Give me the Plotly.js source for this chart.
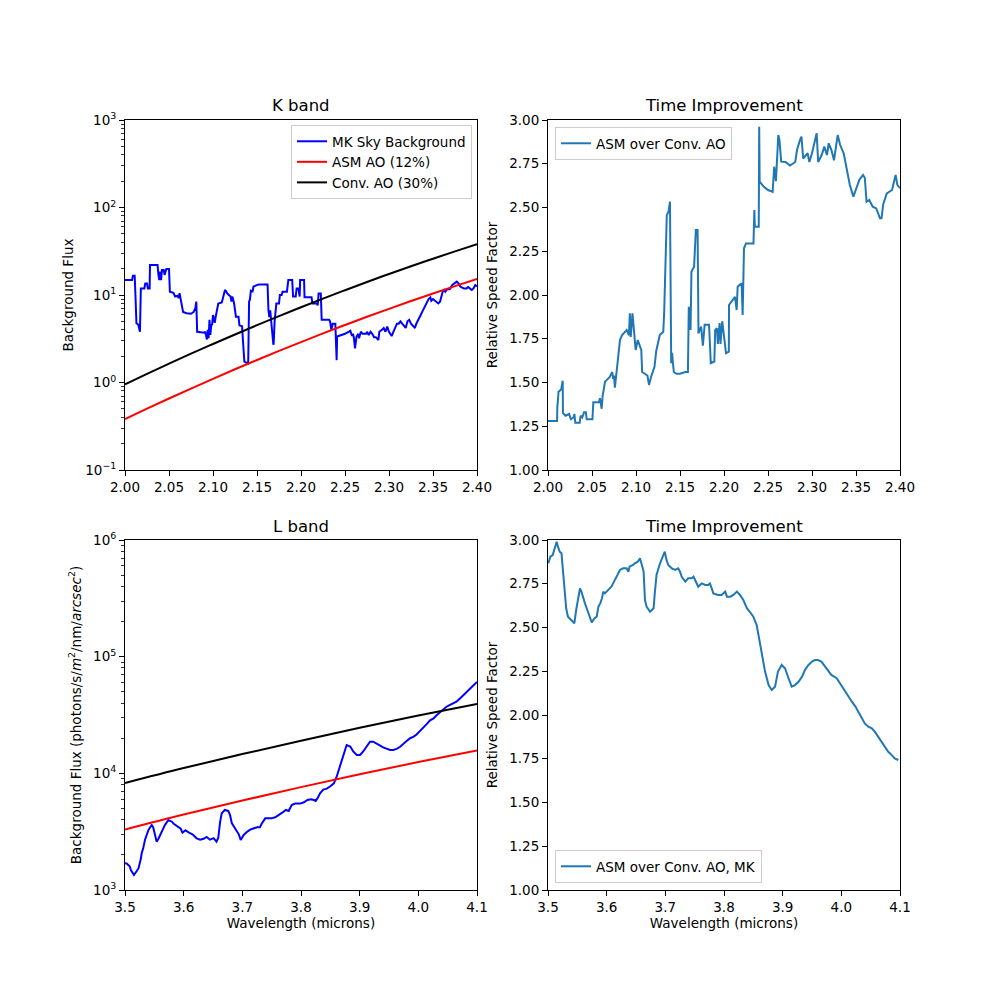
<!DOCTYPE html>
<html>
<head>
<meta charset="utf-8">
<script src="https://cdn.plot.ly/plotly-3.0.1.min.js"></script>
<style>html,body{margin:0;padding:0;background:#fff}#chart{width:1000px;height:1000px}</style>
</head>
<body>
<div id="chart"></div>
<script>
// ---------- K band (top left) ----------
const kSkyX = [2.000,2.008,2.009,2.011,2.012,2.013,2.015,2.017,2.018,2.022,2.023,2.025,2.026,2.028,2.0284,2.037,2.038,2.039,2.040,2.041,2.042,2.044,2.045,2.047,2.050,2.051,2.055,2.057,2.060,2.061,2.062,2.063,2.066,2.070,2.075,2.078,2.080,2.081,2.082,2.090,2.091,2.092,2.093,2.094,2.095,2.096,2.097,2.098,2.099,2.100,2.101,2.102,2.103,2.106,2.110,2.112,2.1136,2.115,2.116,2.118,2.120,2.121,2.122,2.124,2.126,2.129,2.130,2.133,2.1356,2.140,2.141,2.142,2.143,2.145,2.146,2.148,2.149,2.152,2.162,2.163,2.164,2.165,2.167,2.1686,2.169,2.170,2.172,2.175,2.176,2.178,2.179,2.184,2.1856,2.190,2.191,2.194,2.195,2.197,2.1985,2.199,2.2035,2.204,2.212,2.213,2.218,2.219,2.220,2.2225,2.2235,2.232,2.233,2.2345,2.236,2.239,2.2405,2.241,2.243,2.246,2.250,2.254,2.256,2.258,2.259,2.260,2.2614,2.263,2.265,2.266,2.268,2.270,2.274,2.275,2.277,2.279,2.281,2.283,2.285,2.288,2.289,2.292,2.294,2.296,2.298,2.300,2.303,2.305,2.307,2.309,2.311,2.313,2.315,2.317,2.319,2.321,2.323,2.325,2.327,2.3295,2.331,2.334,2.336,2.338,2.340,2.3428,2.345,2.347,2.348,2.350,2.352,2.354,2.356,2.358,2.359,2.361,2.363,2.364,2.366,2.369,2.372,2.374,2.377,2.379,2.381,2.385,2.388,2.390,2.392,2.394,2.396,2.398,2.400];
const kSkyY = [14.8,14.8,16.6,16.6,9.2,4.75,4.6,3.8,11.9,11.9,13.5,13.5,11.9,11.9,22,22,17,14.8,18.5,14.8,19.3,19.3,17,19.8,19.8,10.9,10.6,9.6,9.8,9.2,10.5,9.2,6.4,6.2,6.1,6.4,7.1,8.4,3.8,3.7,3.8,3.5,3.1,4.0,3.2,5.2,3.5,4.5,4.6,5.9,5.2,4.8,5.6,8.0,8.2,9.6,11.4,11.0,10.5,10.0,9.6,8.4,9.6,8.0,5.65,5.65,4.5,4.4,1.73,1.65,8.4,8.9,11.2,11.0,12.5,12.7,12.9,13.2,13.2,6.7,5.6,6.7,4.2,2.7,2.8,5.0,8.0,8.0,10.0,10.0,10.9,10.9,14.8,14.8,9.6,9.6,11.9,11.9,9.6,14.8,14.8,9.4,9.4,8.0,8.0,7.6,10.4,10.4,5.2,5.2,5.0,4.0,4.7,4.7,1.8,3.35,3.4,3.5,3.6,3.8,3.9,3.4,3.6,3.3,2.45,3.3,3.6,3.2,3.8,3.6,3.6,3.8,3.5,3.8,3.6,3.3,3.3,3.06,3.8,4.0,4.2,3.8,4.35,3.8,3.4,3.8,4.3,4.7,4.7,5.0,4.7,4.4,4.2,5.0,5.2,4.7,4.5,4.2,4.7,5.3,5.9,6.5,7.2,8.0,9.0,9.4,8.6,9.0,8.6,8.2,8.0,8.4,9.4,10.9,11.4,10.9,11.6,11.6,13.0,13.6,14.2,13.6,12.5,11.9,11.9,12.3,11.9,11.4,11.9,13.0,12.5];
const kModelX = [2.000,2.025,2.050,2.075,2.100,2.125,2.150,2.175,2.200,2.225,2.250,2.275,2.300,2.325,2.350,2.375,2.400];
const kAsm  = [0.382,0.502,0.656,0.853,1.102,1.416,1.808,2.296,2.898,3.640,4.54,5.64,6.95,8.53,10.40,12.62,15.21];
const kConv = [0.955,1.256,1.641,2.133,2.754,3.540,4.519,5.741,7.244,9.099,11.35,14.09,17.38,21.33,26.00,31.55,38.02];

// ---------- K band ratio (top right) ----------
const kRatioX = [2.000,2.0103,2.0106,2.012,2.015,2.0167,2.017,2.020,2.024,2.026,2.029,2.030,2.031,2.036,2.037,2.039,2.041,2.043,2.044,2.0505,2.0515,2.058,2.059,2.061,2.062,2.0648,2.070,2.073,2.074,2.075,2.076,2.0818,2.084,2.087,2.0894,2.092,2.093,2.094,2.096,2.0996,2.102,2.106,2.107,2.110,2.113,2.1148,2.117,2.121,2.123,2.127,2.131,2.132,2.135,2.137,2.1386,2.140,2.141,2.142,2.143,2.146,2.150,2.156,2.159,2.160,2.162,2.163,2.166,2.168,2.170,2.171,2.174,2.176,2.178,2.183,2.185,2.189,2.190,2.192,2.193,2.195,2.196,2.198,2.2023,2.2055,2.2057,2.2125,2.2144,2.2155,2.2200,2.2212,2.2227,2.225,2.2335,2.2345,2.235,2.2395,2.240,2.2405,2.245,2.250,2.2553,2.257,2.259,2.2617,2.263,2.265,2.270,2.275,2.281,2.283,2.2864,2.288,2.290,2.295,2.297,2.300,2.3053,2.307,2.311,2.314,2.317,2.319,2.322,2.325,2.3292,2.332,2.336,2.3394,2.343,2.347,2.351,2.354,2.358,2.360,2.362,2.365,2.369,2.373,2.3773,2.379,2.381,2.385,2.391,2.395,2.397,2.400];
const kRatioY = [1.28,1.28,1.358,1.447,1.46,1.51,1.325,1.31,1.32,1.29,1.30,1.32,1.27,1.27,1.31,1.30,1.33,1.33,1.29,1.29,1.387,1.387,1.41,1.35,1.42,1.505,1.53,1.56,1.52,1.54,1.47,1.743,1.77,1.79,1.80,1.77,1.895,1.76,1.895,1.686,1.743,1.686,1.56,1.55,1.54,1.486,1.53,1.59,1.68,1.771,1.79,1.897,2.457,2.476,2.533,1.61,1.67,1.61,1.56,1.55,1.55,1.56,1.56,1.933,1.80,2.133,2.162,2.371,2.371,1.78,1.82,1.71,1.83,1.83,1.61,1.62,1.80,1.81,1.72,1.84,1.72,1.85,1.667,1.676,1.943,1.99,1.914,2.047,2.067,1.886,2.267,2.295,2.295,2.486,2.39,2.39,2.962,2.648,2.62,2.60,2.59,2.733,2.65,2.914,2.886,2.762,2.76,2.74,2.76,2.83,2.886,2.905,2.78,2.81,2.76,2.81,2.924,2.76,2.80,2.848,2.80,2.867,2.83,2.77,2.914,2.857,2.81,2.714,2.629,2.562,2.62,2.66,2.686,2.67,2.533,2.543,2.505,2.495,2.438,2.438,2.52,2.58,2.60,2.686,2.629,2.61];

// ---------- L band (bottom left) ----------
const lSkyX = [3.5000,3.5028,3.5080,3.5100,3.5153,3.5190,3.5230,3.5270,3.5284,3.5310,3.5340,3.5400,3.5455,3.5480,3.5500,3.5540,3.5570,3.5630,3.5680,3.5739,3.5800,3.5830,3.5890,3.5950,3.5980,3.6030,3.6090,3.6150,3.6222,3.6280,3.6340,3.6390,3.6450,3.6510,3.6560,3.6590,3.6620,3.6648,3.6700,3.6760,3.6790,3.6820,3.6880,3.6940,3.6972,3.7020,3.7080,3.7140,3.7200,3.7250,3.7300,3.7330,3.7390,3.7450,3.7500,3.7560,3.7620,3.7680,3.7740,3.7790,3.7841,3.7900,3.7990,3.8050,3.8110,3.8170,3.8220,3.8250,3.8280,3.8324,3.8380,3.8440,3.8500,3.8560,3.8608,3.8670,3.8720,3.8778,3.8840,3.8890,3.8950,3.9006,3.9060,3.9120,3.9176,3.9230,3.9290,3.9350,3.9400,3.9460,3.9520,3.9574,3.9630,3.9690,3.9740,3.9800,3.9860,3.9920,3.9970,4.0030,4.0090,4.0142,4.0200,4.0260,4.0310,4.0370,4.0420,4.0480,4.0540,4.0600,4.0650,4.0710,4.0770,4.0820,4.0880,4.0940,4.1000];
const lSkyY = [1695,1690,1600,1483,1345,1420,1530,1850,2063,2275,2683,3267,3606,3450,3100,2596,2750,3150,3600,3981,3850,3700,3500,3350,3100,3250,3100,3000,2772,2700,2750,2850,2700,2780,2596,2800,3800,4540,4853,4760,4400,3750,3350,3000,2683,2950,3150,3300,3381,3450,3450,3700,4112,4112,4112,4200,4370,4600,4853,4760,5356,5500,5500,5650,5906,6000,5906,5800,6100,6744,7250,7400,7750,8207,9360,11778,14600,17498,17000,15400,14356,14356,15400,17000,18664,18664,18100,17300,16700,16200,15849,15849,16200,16900,17900,18900,20000,20620,21500,23000,24700,26400,28500,29578,31500,33300,35200,37240,38600,40200,41084,43800,46800,50100,53700,57200,60800,63700,66500];
const lModelX = [3.5,3.6,3.7,3.8,3.9,4.0,4.1];
const lAsm  = [3304,4436,5848,7620,9820,12500,15700];
const lConv = [8260,11090,14620,19050,24550,31260,39260];

// ---------- L band ratio (bottom right) ----------
const lRatioX = [3.5006,3.5040,3.5080,3.5110,3.5148,3.5170,3.5200,3.5230,3.5261,3.5290,3.5310,3.5340,3.5390,3.5449,3.5480,3.5520,3.5545,3.5570,3.5600,3.5630,3.5660,3.5690,3.5715,3.5745,3.5790,3.5830,3.5860,3.5890,3.5920,3.5943,3.5970,3.6030,3.6080,3.6110,3.6140,3.6170,3.6200,3.6227,3.6280,3.6340,3.6370,3.6390,3.6450,3.6480,3.6530,3.6568,3.6600,3.6630,3.6653,3.6680,3.6739,3.6800,3.6820,3.6850,3.6910,3.6965,3.6990,3.7020,3.7050,3.7110,3.7170,3.7220,3.7250,3.7280,3.7340,3.7390,3.7450,3.7480,3.7562,3.7620,3.7680,3.7730,3.7760,3.7790,3.7818,3.7900,3.7960,3.8020,3.8050,3.8110,3.8160,3.8220,3.8273,3.8330,3.8390,3.8440,3.8500,3.8557,3.8610,3.8640,3.8700,3.8760,3.8813,3.8870,3.8920,3.8983,3.9040,3.9100,3.9154,3.9210,3.9270,3.9330,3.9380,3.9440,3.9500,3.9551,3.9600,3.9660,3.9720,3.9780,3.9830,3.9921,4.0010,4.0070,4.0130,4.0180,4.0240,4.0300,4.0347,4.0400,4.0460,4.0520,4.0570,4.0630,4.0690,4.0740,4.0800,4.0860,4.0910,4.0971];
const lRatioY = [2.867,2.905,2.914,2.952,2.990,2.962,2.933,2.924,2.790,2.705,2.610,2.562,2.543,2.524,2.600,2.676,2.723,2.705,2.667,2.638,2.610,2.581,2.552,2.529,2.552,2.562,2.619,2.638,2.667,2.705,2.695,2.714,2.733,2.752,2.771,2.790,2.810,2.829,2.838,2.838,2.819,2.848,2.857,2.867,2.876,2.895,2.857,2.819,2.657,2.619,2.590,2.610,2.695,2.800,2.867,2.914,2.933,2.886,2.857,2.838,2.829,2.838,2.819,2.790,2.762,2.781,2.781,2.790,2.733,2.752,2.743,2.743,2.752,2.724,2.695,2.686,2.686,2.705,2.676,2.676,2.686,2.705,2.686,2.657,2.610,2.590,2.562,2.514,2.419,2.362,2.248,2.171,2.143,2.162,2.248,2.286,2.267,2.210,2.162,2.171,2.190,2.219,2.257,2.286,2.305,2.314,2.314,2.305,2.276,2.248,2.229,2.210,2.162,2.133,2.105,2.076,2.048,2.010,1.981,1.952,1.933,1.924,1.905,1.876,1.848,1.819,1.790,1.771,1.752,1.743];

// ---------- text ----------
const kTicksX = [2.00,2.05,2.10,2.15,2.20,2.25,2.30,2.35,2.40];
const lTicksX = [3.5,3.6,3.7,3.8,3.9,4.0,4.1];
const ratioTicks = [1.00,1.25,1.50,1.75,2.00,2.25,2.50,2.75,3.00];
const kLogTicks = [0.1,1,10,100,1000];
const kLogLabels = ['10<sup>−1</sup>','10<sup>0</sup>','10<sup>1</sup>','10<sup>2</sup>','10<sup>3</sup>'];
const lLogTicks = [1e3,1e4,1e5,1e6];
const lLogLabels = ['10<sup>3</sup>','10<sup>4</sup>','10<sup>5</sup>','10<sup>6</sup>'];
const panelTitles = ['K band','Time Improvement','L band','Time Improvement'];

function minorLog(lo, hi) {
  const v = [];
  for (let e = lo; e < hi; e++) for (let m = 2; m <= 9; m++) v.push(m * Math.pow(10, e));
  return v;
}

const FONT = 'DejaVu Sans, Liberation Sans, sans-serif';
const FS = 13.5;
const SKY = '#0000ff', RED = '#ff0000', BLK = '#000000', TAB = '#1f77b4';

const traces = [
  {x: kSkyX, y: kSkyY, xaxis: 'x', yaxis: 'y', mode: 'lines', name: 'MK Sky Background', line: {color: SKY, width: 2}, legend: 'legend'},
  {x: kModelX, y: kAsm, xaxis: 'x', yaxis: 'y', mode: 'lines', name: 'ASM AO (12%)', line: {color: RED, width: 2, shape: 'spline'}, legend: 'legend'},
  {x: kModelX, y: kConv, xaxis: 'x', yaxis: 'y', mode: 'lines', name: 'Conv. AO (30%)', line: {color: BLK, width: 2, shape: 'spline'}, legend: 'legend'},
  {x: kRatioX, y: kRatioY, xaxis: 'x2', yaxis: 'y2', mode: 'lines', name: 'ASM over Conv. AO', line: {color: TAB, width: 2}, legend: 'legend2'},
  {x: lSkyX, y: lSkyY, xaxis: 'x3', yaxis: 'y3', mode: 'lines', name: 'MK Sky Background', line: {color: SKY, width: 2}, showlegend: false},
  {x: lModelX, y: lAsm, xaxis: 'x3', yaxis: 'y3', mode: 'lines', name: 'ASM AO (12%)', line: {color: RED, width: 2, shape: 'spline'}, showlegend: false},
  {x: lModelX, y: lConv, xaxis: 'x3', yaxis: 'y3', mode: 'lines', name: 'Conv. AO (30%)', line: {color: BLK, width: 2, shape: 'spline'}, showlegend: false},
  {x: lRatioX, y: lRatioY, xaxis: 'x4', yaxis: 'y4', mode: 'lines', name: 'ASM over Conv. AO, MK', line: {color: TAB, width: 2}, legend: 'legend3'}
];

function axisBase(extra) {
  return Object.assign({
    showline: true, mirror: true, linecolor: '#000', linewidth: 1,
    ticks: 'outside', ticklen: 5, tickwidth: 1, tickcolor: '#000',
    showgrid: false, zeroline: false,
    tickfont: {family: FONT, size: FS, color: '#000'},
    fixedrange: true
  }, extra);
}
const minorStyle = {ticks: 'outside', ticklen: 3, tickwidth: 0.8, tickcolor: '#000', showgrid: false};

const xTitle = {text: 'Wavelength (microns)', font: {family: FONT, size: FS, color: '#000'}, standoff: 4};

const legendBase = {
  bgcolor: 'rgba(255,255,255,0.8)', bordercolor: '#cccccc', borderwidth: 1,
  font: {family: FONT, size: FS, color: '#000'}, itemwidth: 30, tracegroupgap: 0
};

const titlePos = [[0.301, 0.894], [0.724, 0.894], [0.301, 0.474], [0.724, 0.474]];
const annotations = panelTitles.map((t, i) => ({
  text: t, x: titlePos[i][0], y: titlePos[i][1], xref: 'paper', yref: 'paper',
  xanchor: 'center', yanchor: 'middle', showarrow: false,
  font: {family: FONT, size: 16.5, color: '#000'}
}));

const layout = {
  width: 1000, height: 1000,
  margin: {l: 0, r: 0, t: 0, b: 0},
  paper_bgcolor: '#fff', plot_bgcolor: '#fff',
  font: {family: FONT, size: FS, color: '#000'},
  xaxis: axisBase({domain: [0.125, 0.477], anchor: 'y', range: [2.0, 2.4], tickvals: kTicksX, tickformat: '.2f'}),
  yaxis: axisBase({domain: [0.53, 0.88], anchor: 'x', type: 'log', range: [-1, 3], tickvals: kLogTicks, ticktext: kLogLabels,
    minor: Object.assign({tickvals: minorLog(-1, 3)}, minorStyle),
    title: {text: 'Background Flux', font: {family: FONT, size: FS, color: '#000'}, standoff: 8}}),
  xaxis2: axisBase({domain: [0.548, 0.9], anchor: 'y2', range: [2.0, 2.4], tickvals: kTicksX, tickformat: '.2f'}),
  yaxis2: axisBase({domain: [0.53, 0.88], anchor: 'x2', range: [1, 3], tickvals: ratioTicks, tickformat: '.2f',
    title: {text: 'Relative Speed Factor', font: {family: FONT, size: FS, color: '#000'}, standoff: 8}}),
  xaxis3: axisBase({domain: [0.125, 0.477], anchor: 'y3', range: [3.5, 4.1], tickvals: lTicksX, tickformat: '.1f', title: xTitle}),
  yaxis3: axisBase({domain: [0.11, 0.46], anchor: 'x3', type: 'log', range: [3, 6], tickvals: lLogTicks, ticktext: lLogLabels,
    minor: Object.assign({tickvals: minorLog(3, 6)}, minorStyle),
    title: {text: 'Background Flux (photons/s/<i>m</i><sup>2</sup>/nm/<i>arcsec</i><sup>2</sup>)', font: {family: FONT, size: FS, color: '#000'}, standoff: 8}}),
  xaxis4: axisBase({domain: [0.548, 0.9], anchor: 'y4', range: [3.5, 4.1], tickvals: lTicksX, tickformat: '.1f', title: xTitle}),
  yaxis4: axisBase({domain: [0.11, 0.46], anchor: 'x4', range: [1, 3], tickvals: ratioTicks, tickformat: '.2f',
    title: {text: 'Relative Speed Factor', font: {family: FONT, size: FS, color: '#000'}, standoff: 8}}),
  legend: Object.assign({x: 0.472, y: 0.875, xanchor: 'right', yanchor: 'top'}, legendBase),
  legend2: Object.assign({x: 0.555, y: 0.873, xanchor: 'left', yanchor: 'top'}, legendBase),
  legend3: Object.assign({x: 0.555, y: 0.117, xanchor: 'left', yanchor: 'bottom'}, legendBase),
  annotations: annotations,
  showlegend: true
};

Plotly.newPlot('chart', traces, layout, {displayModeBar: false, staticPlot: true});
</script>
</body>
</html>
